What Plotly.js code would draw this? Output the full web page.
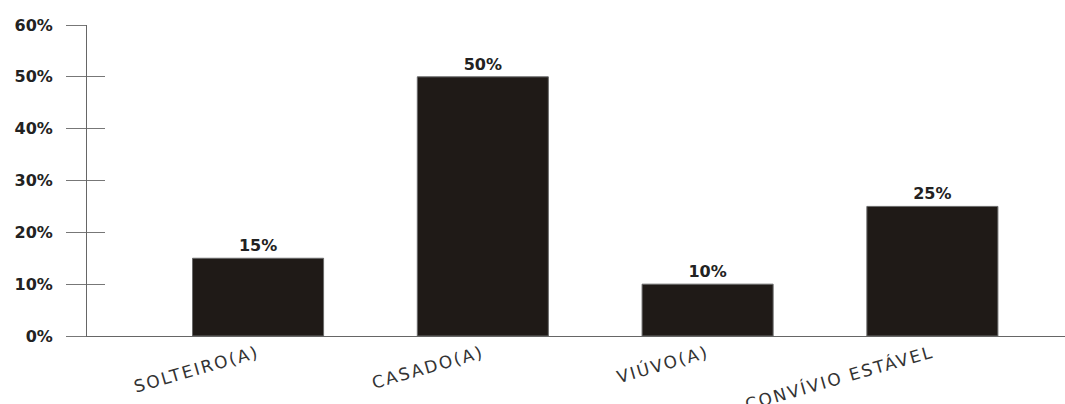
<!DOCTYPE html>
<html>
<head>
<meta charset="utf-8">
<script src="https://cdn.plot.ly/plotly-3.0.1.min.js"></script>
<style>
html,body{margin:0;padding:0;background:#fff;}
#chart{width:1065px;height:404px;}
.xtick text{letter-spacing:2px;}
</style>
</head>
<body>
<div id="chart"></div>
<script>
const categories = ["SOLTEIRO(A)", "CASADO(A)", "VIÚVO(A)", "CONVÍVIO ESTÁVEL"];
const percentValues = [15, 50, 10, 25];
const yTickValues = [0, 10, 20, 30, 40, 50, 60];
const yTickLabels = ["0%", "10%", "20%", "30%", "40%", "50%", "60%"];

const barTrace = {
  type: "bar",
  x: categories,
  y: percentValues,
  marker: {color: "#1f1a17", line: {color: "#6a6a6a", width: 1}},
  text: percentValues.map(v => v + "%"),
  textposition: "outside",
  cliponaxis: false,
  textfont: {family: "DejaVu Sans", size: 16, weight: "bold", color: "#222"},
  hoverinfo: "skip"
};

const dummyTrace = {
  type: "scatter",
  x: [categories[0]],
  y: [0],
  yaxis: "y2",
  mode: "none",
  showlegend: false,
  hoverinfo: "skip"
};

const layout = {
  width: 1065,
  height: 404,
  margin: {l: 87, r: 0, t: 25, b: 68},
  paper_bgcolor: "#ffffff",
  plot_bgcolor: "#ffffff",
  showlegend: false,
  bargap: 0.417,
  xaxis: {
    type: "category",
    range: [-0.761, 3.59],
    showgrid: false,
    zeroline: false,
    showline: true,
    linecolor: "#666",
    linewidth: 1,
    ticks: "",
    tickangle: -16,
    ticklabelstandoff: 0,
    tickfont: {family: "DejaVu Sans", size: 17, color: "#333"}
  },
  yaxis: {
    range: [0, 60],
    tickvals: yTickValues,
    ticktext: yTickLabels,
    showgrid: false,
    zeroline: false,
    showline: true,
    linecolor: "#666",
    linewidth: 1,
    ticks: "outside",
    ticklen: 20,
    tickcolor: "#777",
    tickwidth: 1,
    ticklabelstandoff: 10,
    tickfont: {family: "DejaVu Sans", size: 16, weight: "bold", color: "#222"}
  },
  yaxis2: {
    overlaying: "y",
    range: [0, 60],
    tickvals: yTickValues.slice(1),
    showticklabels: false,
    showgrid: false,
    zeroline: false,
    showline: false,
    ticks: "inside",
    ticklen: 18,
    tickcolor: "#777",
    tickwidth: 1,
    side: "left"
  }
};

Plotly.newPlot("chart", [barTrace, dummyTrace], layout, {displayModeBar: false, staticPlot: true});
</script>
</body>
</html>
